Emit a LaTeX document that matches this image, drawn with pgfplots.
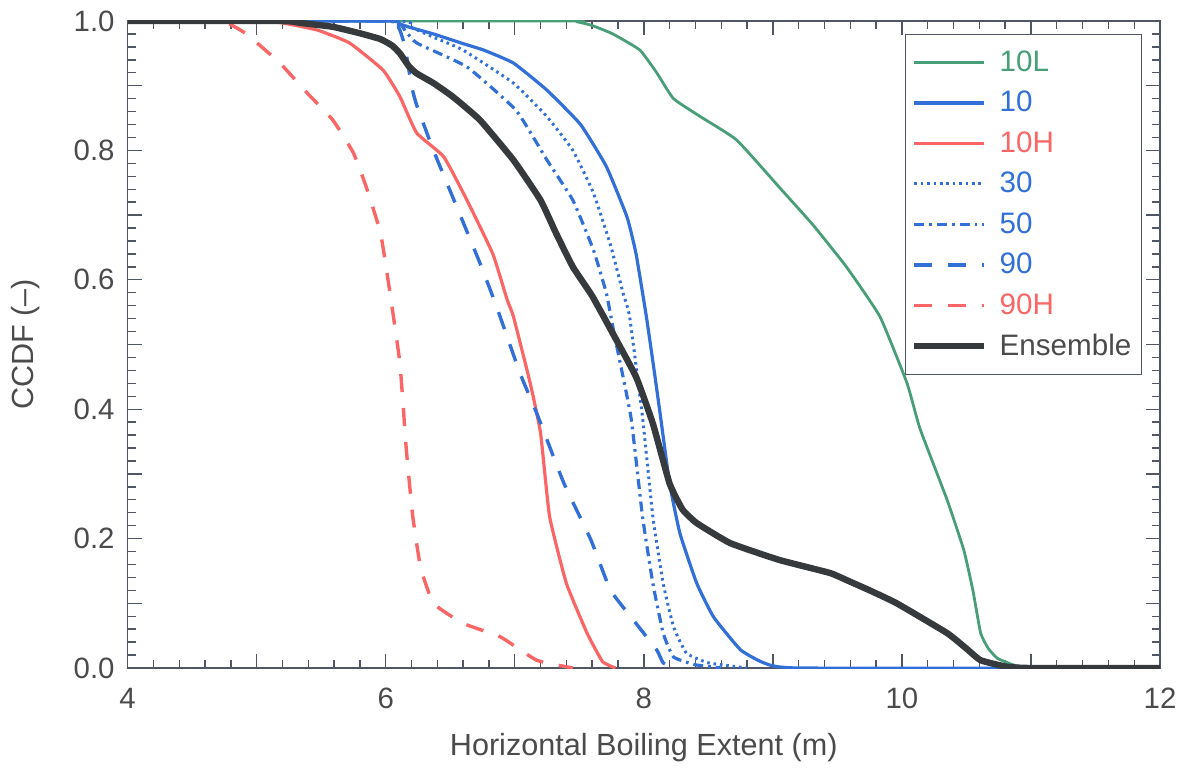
\documentclass[border=0pt]{standalone}
\usepackage{pgfplots}
\pgfplotsset{compat=1.18}
\usepackage{fontspec}
\setmainfont{Liberation Sans}
\definecolor{cgreen}{RGB}{72,158,118}
\definecolor{cblue}{RGB}{50,112,215}
\definecolor{cred}{RGB}{250,102,102}
\definecolor{cblack}{RGB}{55,58,60}
\definecolor{caxis}{RGB}{80,86,100}
\definecolor{ctext}{RGB}{75,75,75}
\begin{document}
\begin{tikzpicture}
\path[use as bounding box] (-63.8pt,-51.5pt) rectangle (529.2pt,334pt);
\begin{axis}[
  at={(0,0)}, anchor=south west,
  scale only axis,
  width=516.2pt, height=323.5pt,
  xmin=4, xmax=12, ymin=0, ymax=1,
  axis line style={caxis, line width=0.9pt},
  every tick/.style={caxis, line width=0.7pt},
  tick align=inside,
  major tick length=7pt, minor tick length=4pt,
  xtick={4,5,...,12},
  xticklabels={4,,6,,8,,10,,12},
  minor x tick num=4,
  ytick={0,0.1,...,1.01},
  yticklabels={0.0,,0.2,,0.4,,0.6,,0.8,,1.0},
  minor y tick num=4,
  ticklabel style={font=\fontsize{14.7}{16}\selectfont, text=ctext},
  xticklabel style={yshift=-6.5pt},
  yticklabel style={xshift=-3pt},
  /pgf/number format/assume math mode=true,
  xlabel={Horizontal Boiling Extent (m)},
  ylabel={CCDF (--)},
  label style={font=\fontsize{15.3}{17}\selectfont, text=ctext},
  xlabel style={at={(axis description cs:0.5,0)}, anchor=center, yshift=-40pt},
  ylabel style={at={([xshift=-50.8pt]axis description cs:0,0.5)}, anchor=center},
  legend style={at={(axis description cs:1,1)}, anchor=north east, xshift=-9pt, yshift=-6.5pt,
    draw=caxis, line width=0.7pt, font=\fontsize{14.8}{16}\selectfont,
    row sep=4.4pt, inner xsep=3pt, inner ysep=6pt},
  legend cell align=left,
  legend image code/.code={\draw[#1] (0pt,0pt) -- (35pt,0pt); \path (39pt,0pt);},
  every axis plot/.append style={smooth, tension=0.25},
  clip=true,
]
\addplot[cgreen, line width=1.4pt] coordinates {
(4,1) (7.4,1) (7.5,0.998) (7.6,0.993) (7.76,0.98) (7.97,0.955) (8.1,0.92) (8.23,0.88) (8.44,0.852) (8.72,0.816) (9.05,0.743) (9.31,0.685) (9.57,0.62) (9.83,0.543) (10.04,0.44) (10.14,0.37) (10.35,0.26) (10.48,0.182) (10.55,0.12) (10.61,0.054) (10.67,0.03) (10.74,0.015) (10.86,0.005) (11,0) (12,0)};
\addlegendentry{\textcolor{cgreen}{10L}}
\addplot[cblue, line width=1.6pt] coordinates {
(4,1) (6.0,1) (6.1,0.996) (6.19,0.99) (6.37,0.98) (6.6,0.965) (6.76,0.955) (6.99,0.935) (7.25,0.893) (7.51,0.84) (7.71,0.775) (7.87,0.697) (7.94,0.64) (8.02,0.543) (8.08,0.46) (8.13,0.388) (8.2,0.285) (8.28,0.208) (8.41,0.131) (8.54,0.079) (8.75,0.028) (8.93,0.008) (9.2,0) (12,0)};
\addlegendentry{\textcolor{cblue}{10}}
\addplot[cred, line width=1.6pt] coordinates {
(4,1) (5.0,1) (5.2,0.997) (5.47,0.986) (5.72,0.966) (5.98,0.924) (6.11,0.883) (6.24,0.827) (6.45,0.79) (6.63,0.723) (6.83,0.64) (6.94,0.57) (6.99,0.543) (7.12,0.44) (7.2,0.363) (7.27,0.234) (7.4,0.131) (7.56,0.054) (7.68,0.01) (7.78,0)};
\addlegendentry{\textcolor{cred}{10H}}
\addplot[cblue, line width=1.5pt, dash pattern=on 1.3pt off 1.9pt] coordinates {
(4,1) (6.1,1) (6.2,0.99) (6.37,0.975) (6.6,0.955) (6.99,0.904) (7.25,0.852) (7.45,0.8) (7.61,0.734) (7.74,0.655) (7.84,0.579) (7.89,0.543) (7.99,0.388) (8.07,0.234) (8.15,0.131) (8.23,0.064) (8.33,0.023) (8.5,0.008) (8.8,0)};
\addlegendentry{\textcolor{cblue}{30}}
\addplot[cblue, line width=1.6pt, dash pattern=on 5pt off 2.5pt on 1.3pt off 2.5pt] coordinates {
(4,1) (6.0,1) (6.15,0.985) (6.24,0.966) (6.63,0.929) (7.01,0.862) (7.25,0.785) (7.45,0.723) (7.61,0.646) (7.71,0.579) (7.77,0.517) (7.9,0.388) (7.99,0.234) (8.07,0.131) (8.15,0.054) (8.23,0.017) (8.4,0.005) (8.6,0)};
\addlegendentry{\textcolor{cblue}{50}}
\addplot[cblue, line width=1.7pt, dash pattern=on 9pt off 8pt] coordinates {
(4,1) (6.0,1) (6.1,0.99) (6.15,0.96) (6.2,0.9) (6.24,0.87) (6.37,0.8) (6.55,0.713) (6.73,0.626) (6.86,0.558) (7.04,0.456) (7.17,0.394) (7.38,0.286) (7.59,0.198) (7.74,0.121) (7.9,0.079) (8.1,0.028) (8.15,0.008) (8.25,0)};
\addlegendentry{\textcolor{cblue}{90}}
\addplot[cred, line width=1.7pt, dash pattern=on 9pt off 8pt] coordinates {
(4,1) (4.6,1) (4.77,0.997) (4.92,0.98) (5.18,0.935) (5.39,0.889) (5.59,0.847) (5.75,0.796) (5.85,0.743) (5.96,0.672) (6.03,0.584) (6.11,0.471) (6.16,0.337) (6.21,0.234) (6.27,0.156) (6.37,0.1) (6.6,0.069) (6.89,0.048) (7.17,0.012) (7.45,0)};
\addlegendentry{\textcolor{cred}{90H}}
\addplot[cblack, line width=3.2pt] coordinates {
(4,1) (5.2,1) (5.34,0.997) (5.59,0.991) (5.8,0.981) (5.96,0.972) (6.05,0.962) (6.11,0.95) (6.18,0.93) (6.24,0.919) (6.37,0.904) (6.52,0.883) (6.73,0.847) (6.99,0.785) (7.2,0.723) (7.32,0.672) (7.45,0.62) (7.6,0.575) (7.76,0.517) (7.94,0.45) (8.07,0.378) (8.2,0.285) (8.3,0.245) (8.41,0.224) (8.67,0.193) (9.05,0.167) (9.44,0.147) (9.57,0.136) (9.75,0.12) (9.96,0.1) (10.35,0.054) (10.5,0.03) (10.61,0.012) (10.81,0.002) (11,0) (12,0)};
\addlegendentry{\textcolor{ctext}{Ensemble}}
\end{axis}
\end{tikzpicture}
\end{document}
